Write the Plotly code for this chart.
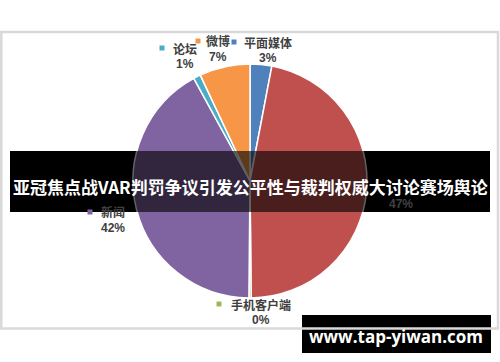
import plotly.graph_objects as go

# ---- data ----
categories = ["平面媒体", "电视", "手机客户端", "新闻", "论坛", "微博"]
values = [3, 47, 0.3, 42, 1, 7]
colors = ["#4F81BD", "#C0504D", "#9BBB59", "#8064A2", "#4BACC6", "#F79646"]
title_text = "亚冠焦点战VAR判罚争议引发公平性与裁判权威大讨论赛场舆论"
watermark_text = "www.tap-yiwan.com"

W, H = 500, 362
def px(x):
    return x / W
def py(y):
    return 1 - y / H

# label layout (pixel centres of name line, marker position); the 电视 name is hidden by the banner
label_pos = {
    "平面媒体": (268, 42, 234),
    "电视": (401, 188, None),
    "手机客户端": (261, 304, 219),
    "新闻": (113, 212, 90),
    "论坛": (185, 48, 162),
    "微博": (218, 41, 198),
}

total = sum(values)
pcts = [round(v / total * 100) for v in values]

fig = go.Figure()
fig.add_trace(go.Pie(
    labels=categories, values=values, sort=False, direction="clockwise",
    rotation=0, marker=dict(colors=colors, line=dict(color="white", width=1.5)),
    textinfo="none", hoverinfo="label+percent", showlegend=False,
    domain=dict(x=[133 / W, 367 / W], y=[py(298), py(64)]),
))

shapes = []
# banner base (below pie) and overlay (above pie)
bx0, bx1, by0, by1 = 10, 490, 151, 212
shapes.append(dict(type="rect", xref="paper", yref="paper", layer="below",
                   x0=px(bx0), x1=px(bx1), y0=py(by1), y1=py(by0),
                   fillcolor="black", line=dict(width=0)))
shapes.append(dict(type="rect", xref="paper", yref="paper", layer="above",
                   x0=px(bx0), x1=px(bx1), y0=py(by1), y1=py(by0),
                   fillcolor="rgba(0,0,0,0.62)", line=dict(width=0)))
# watermark box
shapes.append(dict(type="rect", xref="paper", yref="paper", layer="above",
                   x0=px(302), x1=px(491), y0=py(353), y1=py(315),
                   fillcolor="black", line=dict(width=0)))
# chart border
shapes.append(dict(type="rect", xref="paper", yref="paper", layer="above",
                   x0=px(1.3), x1=px(498), y0=py(328.5), y1=py(32),
                   fillcolor="rgba(0,0,0,0)", line=dict(color="#D9D9D9", width=2.5)))
# legend-key markers
for cat, col in zip(categories, colors):
    cx, cy, mx = label_pos[cat]
    if mx is None:
        continue
    shapes.append(dict(type="rect", xref="paper", yref="paper", layer="above",
                       x0=px(mx - 2.5), x1=px(mx + 2.5), y0=py(cy + 2.5), y1=py(cy - 2.5),
                       fillcolor=col, line=dict(width=0)))

annotations = []
lab_font = dict(family="Noto Sans CJK SC", size=12, color="#404040", weight="bold")
for cat, p in zip(categories, pcts):
    cx, cy, mx = label_pos[cat]
    if mx is not None:
        annotations.append(dict(text=cat, x=px(cx), y=py(cy), xref="paper", yref="paper",
                                showarrow=False, xanchor="center", yanchor="middle", font=lab_font))
    annotations.append(dict(text=f"{p}%", x=px(cx), y=py(cy + 16), xref="paper", yref="paper",
                            showarrow=False, xanchor="center", yanchor="middle",
                            font=dict(family="Liberation Sans", size=12, color="#404040", weight="bold")))

annotations.append(dict(text=title_text, x=px(250), y=py(187), xref="paper", yref="paper",
                        showarrow=False, xanchor="center", yanchor="middle",
                        font=dict(family="Noto Sans CJK SC", size=17, color="white", weight="bold")))
annotations.append(dict(text=watermark_text, x=px(396), y=py(336), xref="paper", yref="paper",
                        showarrow=False, xanchor="center", yanchor="middle",
                        font=dict(family="Open Sans", size=17, color="white", weight="bold")))

fig.update_layout(
    width=W, height=H, margin=dict(l=0, r=0, t=0, b=0),
    paper_bgcolor="white", plot_bgcolor="white",
    shapes=shapes, annotations=annotations, showlegend=False,
)
fig.write_html("out.html")
